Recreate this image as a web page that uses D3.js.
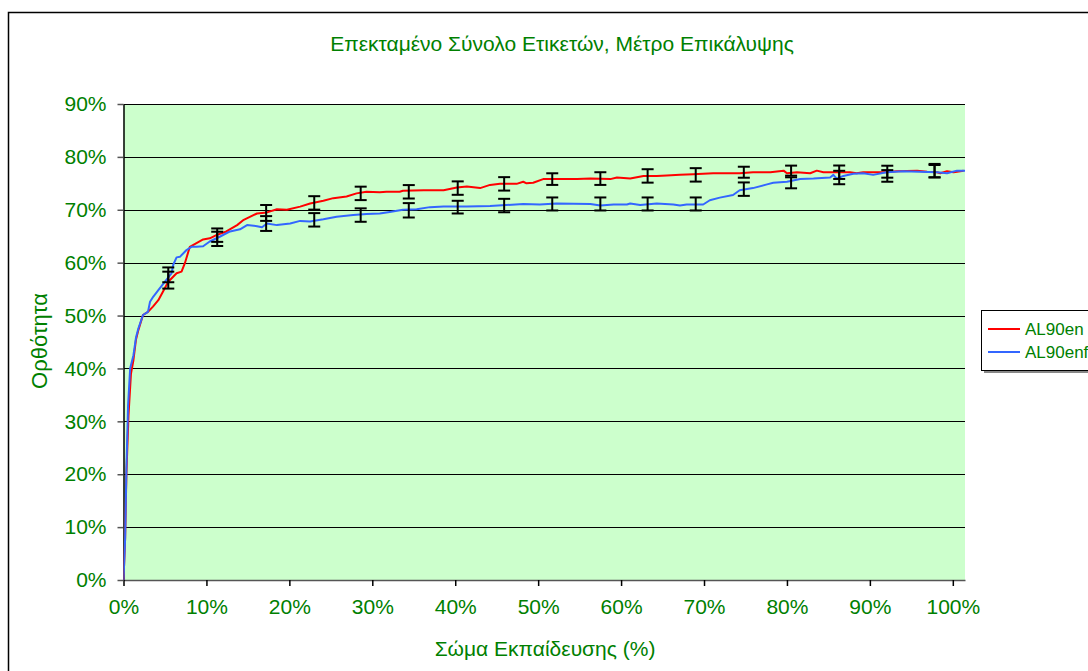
<!DOCTYPE html>
<html>
<head>
<meta charset="utf-8">
<script src="https://cdn.jsdelivr.net/npm/d3@7"></script>
<style>
    body { margin: 0; background: #fff; }
    svg { display: block; }
    text { font-family: "Liberation Sans", Arial, sans-serif; fill: #008000; }
</style>
</head>
<body>
<script>
// x: training corpus (%), y: accuracy (%)
const xTicks = [0, 10, 20, 30, 40, 50, 60, 70, 80, 90, 100];
const yTicks = [0, 10, 20, 30, 40, 50, 60, 70, 80, 90];

const seriesNames = ["AL90en", "AL90enf"];
const seriesColors = ["#ff0000", "#3366ff"];

const al90en = [
    [0, 0], [0.2, 8], [0.35, 20], [0.6, 31], [0.9, 39], [1.2, 41.6], [1.5, 45.4], [1.8, 47.3],
    [2.35, 50.1], [2.95, 50.7], [3.55, 51.7], [4.2, 52.9], [5.4, 56.4], [6.4, 58.0], [7.0, 58.3],
    [7.4, 59.9], [8.0, 63.0], [8.8, 63.7], [9.6, 64.4], [10.4, 64.6], [11.2, 65.2], [12.4, 65.9],
    [13.7, 67.1], [14.5, 68.1], [15.3, 68.7], [16.1, 69.3], [17.3, 69.5], [18.5, 70.1], [19.7, 70.0],
    [21.3, 70.6], [22.5, 71.2], [24.1, 71.7], [25.3, 72.2], [26.9, 72.5], [28.1, 73.1], [29.3, 73.4],
    [30.9, 73.3], [31.7, 73.4], [33.3, 73.4], [33.7, 73.6], [36.2, 73.7], [38.6, 73.7], [40.2, 74.2],
    [41.4, 74.4], [43.0, 74.1], [44.2, 74.7], [45.4, 74.9], [47.4, 74.9], [48.2, 75.3], [48.6, 75.0],
    [49.4, 75.1], [50.6, 75.8], [52.2, 75.8], [54.7, 75.8], [56.3, 75.9], [58.7, 75.8], [59.5, 76.1],
    [61.1, 75.9], [62.7, 76.4], [64.3, 76.4], [65.5, 76.5], [67.1, 76.6], [68.7, 76.7], [71.1, 76.9],
    [74.3, 76.9], [75.9, 77.1], [76.8, 77.1], [78.0, 77.1], [79.6, 77.4], [80.0, 76.9], [81.2, 77.1],
    [82.8, 76.9], [83.6, 77.4], [84.4, 77.1], [87.6, 77.1], [88.4, 76.9], [89.2, 77.1], [90.8, 77.1],
    [92.0, 77.1], [93.2, 77.3], [95.7, 77.4], [96.9, 77.2], [98.1, 77.1], [98.5, 76.9], [99.3, 77.3],
    [100.1, 77.1], [101.3, 77.4]
];

const al90enf = [
    [0, 0], [0.2, 8], [0.35, 21], [0.55, 33], [0.8, 40], [1.2, 42.5], [1.5, 45.8], [1.8, 47.6],
    [2.35, 50.1], [2.95, 50.7], [3.2, 52.6], [3.6, 53.6], [4.2, 54.8], [5.0, 56.4], [5.8, 58.0],
    [6.0, 59.6], [6.4, 61.0], [6.8, 61.1], [7.6, 62.4], [8.2, 63.0], [8.8, 63.0], [9.6, 63.1],
    [10.4, 64.0], [11.6, 64.9], [12.85, 65.9], [14.05, 66.3], [14.9, 67.1], [16.1, 66.9], [16.7, 66.7],
    [17.3, 67.4], [18.5, 67.1], [20.1, 67.4], [21.3, 67.9], [22.5, 67.8], [24.1, 68.2], [25.7, 68.7],
    [27.7, 69.0], [29.3, 69.2], [30.9, 69.3], [32.1, 69.6], [33.7, 70.0], [35.35, 70.1], [36.95, 70.5],
    [38.6, 70.6], [41.4, 70.6], [44.2, 70.7], [48.2, 71.1], [50.2, 71.0], [52.2, 71.2], [56.3, 71.1],
    [57.5, 70.8], [59.1, 71.0], [60.7, 71.0], [61.1, 71.2], [62.3, 70.9], [64.3, 71.2], [66.3, 71.0],
    [67.1, 70.8], [67.9, 71.0], [69.9, 71.0], [70.7, 71.8], [71.9, 72.3], [73.5, 72.8], [74.3, 73.7],
    [75.9, 74.1], [77.6, 74.8], [78.35, 75.1], [80.0, 75.3], [81.6, 75.8], [83.2, 75.9], [85.2, 76.1],
    [85.6, 76.6], [86.0, 75.9], [86.8, 76.4], [88.0, 76.8], [89.2, 76.9], [90.4, 76.6], [92.0, 77.1],
    [94.0, 77.3], [96.0, 77.2], [98.1, 77.1], [99.3, 76.9], [100.5, 77.4], [101.5, 77.4]
];

// error bars: [x, mean, half-range]
const al90enErr = [
    [5.4, 56.7, 1.6], [11.3, 65.2, 1.27], [17.2, 69.4, 1.5], [23.0, 71.3, 1.27], [28.6, 73.1, 1.27],
    [34.4, 73.4, 1.27], [40.3, 74.1, 1.27], [45.9, 74.9, 1.27], [51.7, 75.8, 1.1], [57.5, 75.9, 1.2],
    [63.2, 76.4, 1.27], [69.0, 76.6, 1.27], [74.8, 77.1, 1.04], [80.5, 77.4, 0.95], [86.3, 77.1, 1.27],
    [92.1, 77.2, 1.13], [97.8, 77.3, 1.17]
];
const al90enfErr = [
    [5.4, 57.7, 1.4], [11.3, 64.5, 1.35], [17.2, 67.4, 1.4], [23.0, 68.1, 1.27], [28.6, 69.0, 1.27],
    [34.4, 69.9, 1.36], [40.3, 70.5, 1.2], [45.9, 70.8, 1.27], [51.7, 71.1, 1.23], [57.5, 71.1, 1.23],
    [63.2, 71.1, 1.23], [69.0, 71.1, 1.23], [74.8, 73.9, 1.27], [80.5, 75.1, 1.04], [86.3, 76.1, 1.27],
    [92.1, 76.4, 1.1], [97.8, 77.4, 1.27]
];

const width = 1088;
const height = 671;
const plot = { left: 123.5, right: 965, top: 104, bottom: 580 };
const font = "Liberation Sans, Arial, sans-serif";

const svg = d3.select("body").append("svg")
    .attr("width", width)
    .attr("height", height);

// outer chart border (runs off the picture on the right and bottom)
svg.append("rect")
    .attr("x", 8.5).attr("y", 12.5)
    .attr("width", 1200).attr("height", 800)
    .attr("fill", "none")
    .attr("stroke", "#000")
    .attr("stroke-width", 1.5);

const x = d3.scaleLinear()
    .domain([0, 101.47])
    .range([plot.left, plot.right]);
const y = d3.scaleLinear()
    .domain([0, 90])
    .range([plot.bottom, plot.top]);

// plot background
svg.append("rect")
    .attr("x", plot.left).attr("y", plot.top)
    .attr("width", plot.right - plot.left)
    .attr("height", plot.bottom - plot.top)
    .attr("fill", "#ccffcc");

// gridlines
svg.append("g")
    .selectAll("line")
    .data(yTicks.filter(d => d > 0))
    .join("line")
    .attr("x1", plot.left).attr("x2", plot.right)
    .attr("y1", d => Math.round(y(d)) + 0.5)
    .attr("y2", d => Math.round(y(d)) + 0.5)
    .attr("stroke", "#000")
    .attr("stroke-width", 1);

// axes
const xAxis = svg.append("g")
    .attr("transform", `translate(0,${plot.bottom})`)
    .call(d3.axisBottom(x).tickValues(xTicks).tickFormat(d => d + "%").tickSize(6).tickSizeOuter(0).tickPadding(13));
xAxis.select(".domain").attr("stroke", "#555").attr("stroke-width", 1.5);
xAxis.selectAll(".tick line").attr("stroke", "#000").attr("stroke-width", 1.5);
xAxis.selectAll("text")
    .attr("font-size", 21)
    .attr("font-family", font)
    .attr("fill", "#008000");

const yAxis = svg.append("g")
    .attr("transform", `translate(${plot.left},0)`)
    .call(d3.axisLeft(y).tickValues(yTicks).tickFormat(d => d + "%").tickSize(6).tickSizeOuter(0).tickPadding(11));
yAxis.select(".domain").attr("stroke", "#000").attr("stroke-width", 1.5);
yAxis.selectAll(".tick line").attr("stroke", "#555").attr("stroke-width", 1.5);
yAxis.selectAll("text")
    .attr("font-size", 21)
    .attr("font-family", font)
    .attr("fill", "#008000");

// series lines
const line = d3.line()
    .x(d => x(d[0]))
    .y(d => y(d[1]));

svg.append("clipPath").attr("id", "plot-clip")
    .append("rect")
    .attr("x", plot.left).attr("y", plot.top - 5)
    .attr("width", plot.right - plot.left).attr("height", plot.bottom - plot.top + 5);

[al90en, al90enf].forEach((data, i) => {
    svg.append("path")
        .datum(data)
        .attr("clip-path", "url(#plot-clip)")
        .attr("d", line)
        .attr("fill", "none")
        .attr("stroke", seriesColors[i])
        .attr("stroke-width", 2)
        .attr("stroke-linejoin", "round");
});

// error bars
const capHalf = 6;
[al90enErr, al90enfErr].forEach(errs => {
    const g = svg.append("g").selectAll("g")
        .data(errs)
        .join("g")
        .attr("stroke", "#000")
        .attr("stroke-width", 2);
    g.append("line")
        .attr("x1", d => x(d[0])).attr("x2", d => x(d[0]))
        .attr("y1", d => y(d[1] - d[2])).attr("y2", d => y(d[1] + d[2]));
    g.append("line")
        .attr("x1", d => x(d[0]) - capHalf).attr("x2", d => x(d[0]) + capHalf)
        .attr("y1", d => y(d[1] + d[2])).attr("y2", d => y(d[1] + d[2]));
    g.append("line")
        .attr("x1", d => x(d[0]) - capHalf).attr("x2", d => x(d[0]) + capHalf)
        .attr("y1", d => y(d[1] - d[2])).attr("y2", d => y(d[1] - d[2]));
});

// title and axis titles
svg.append("text")
    .attr("x", 562).attr("y", 51)
    .attr("text-anchor", "middle")
    .attr("font-size", 21)
    .text("Επεκταμένο Σύνολο Ετικετών, Μέτρο Επικάλυψης");

svg.append("text")
    .attr("x", 545).attr("y", 656)
    .attr("text-anchor", "middle")
    .attr("font-size", 21)
    .text("Σώμα Εκπαίδευσης (%)");

svg.append("text")
    .attr("transform", "translate(47,341) rotate(-90)")
    .attr("text-anchor", "middle")
    .attr("font-size", 22)
    .text("Ορθότητα");

// legend
const legend = svg.append("g").attr("transform", "translate(981,310)");
legend.append("rect")
    .attr("x", 3).attr("y", 3).attr("width", 130).attr("height", 60)
    .attr("fill", "#888");
legend.append("rect")
    .attr("x", 0.5).attr("y", 0.5).attr("width", 130).attr("height", 60)
    .attr("fill", "#fff").attr("stroke", "#000").attr("stroke-width", 1);
seriesNames.forEach((name, i) => {
    const ly = 19 + i * 23;
    legend.append("line")
        .attr("x1", 7).attr("x2", 39)
        .attr("y1", ly).attr("y2", ly)
        .attr("stroke", seriesColors[i])
        .attr("stroke-width", 2);
    legend.append("text")
        .attr("x", 44).attr("y", ly + 6)
        .attr("font-size", 17)
        .text(name);
});
</script>
</body>
</html>
